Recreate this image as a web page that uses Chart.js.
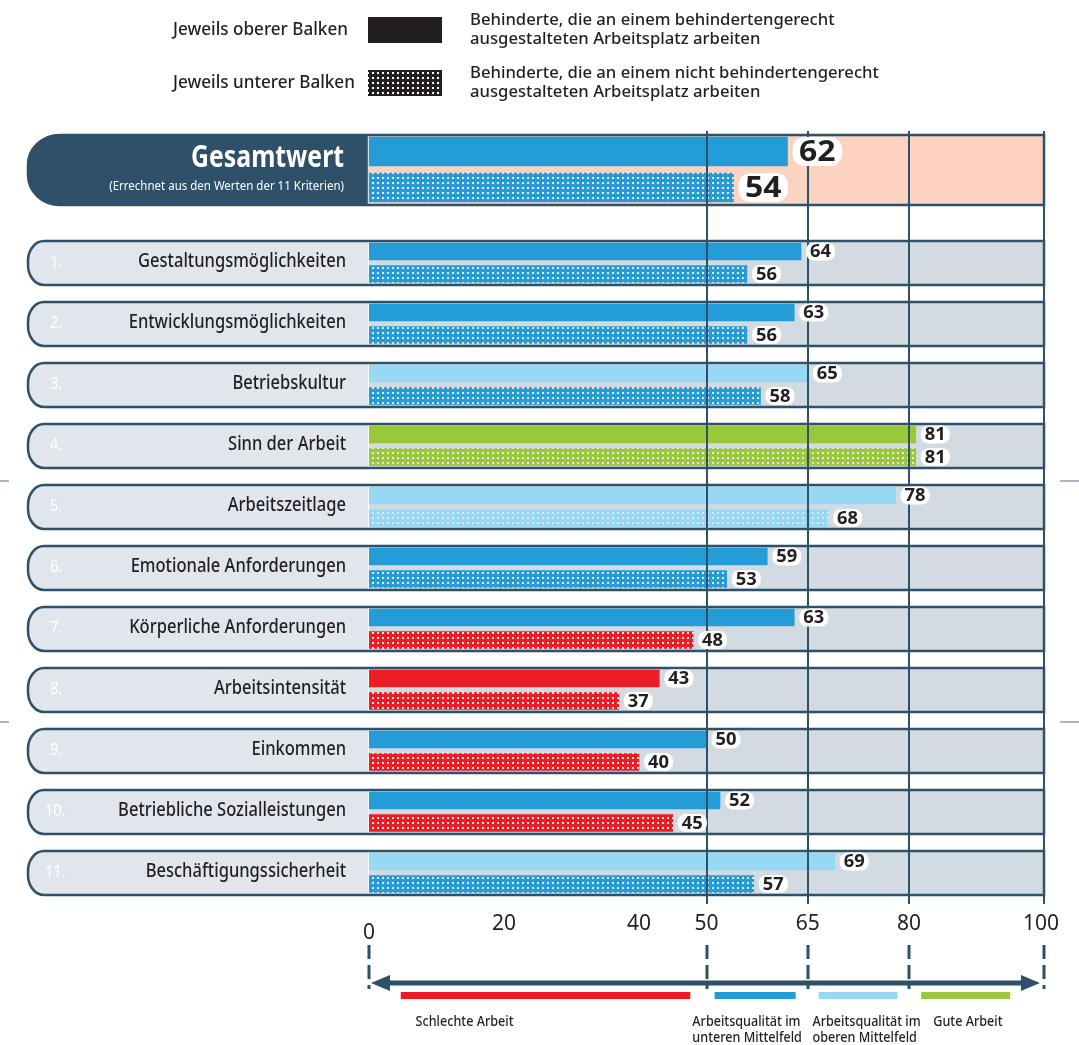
<!DOCTYPE html>
<html lang="de">
<head>
<meta charset="utf-8">
<title>Arbeitsqualität behinderter Beschäftigter</title>
<script src="https://cdn.jsdelivr.net/npm/chart.js@4.4.1/dist/chart.umd.min.js"></script>
<style>
  html, body { margin: 0; padding: 0; background: #fff; }
  #wrap { width: 1079px; height: 1045px; }
</style>
</head>
<body>
<div id="wrap"><canvas id="chart" width="1079" height="1045"></canvas></div>
<script>
// --- data ---
const categories = [
  'Gestaltungsmöglichkeiten', 'Entwicklungsmöglichkeiten', 'Betriebskultur', 'Sinn der Arbeit',
  'Arbeitszeitlage', 'Emotionale Anforderungen', 'Körperliche Anforderungen', 'Arbeitsintensität',
  'Einkommen', 'Betriebliche Sozialleistungen', 'Beschäftigungssicherheit'
];
const upperValues = [64, 63, 65, 81, 78, 59, 63, 43, 50, 52, 69];
const lowerValues = [56, 56, 58, 81, 68, 53, 48, 37, 40, 45, 57];
const totalTitle = 'Gesamtwert';
const totalNote = '(Errechnet aus den Werten der 11 Kriterien)';
const totalUpper = 62;
const totalLower = 54;
const tickValues = [0, 20, 40, 50, 65, 80, 100];
const thresholds = [50, 65, 80];
const bandColors = ['#ee1d25', '#239cd7', '#97d9f5', '#9bc83b'];
const bandLabels = [['Schlechte Arbeit'], ['Arbeitsqualität im', 'unteren Mittelfeld'],
                    ['Arbeitsqualität im', 'oberen Mittelfeld'], ['Gute Arbeit']];
const legendNames = ['Jeweils oberer Balken', 'Jeweils unterer Balken'];
const legendTexts = [['Behinderte, die an einem behindertengerecht', 'ausgestalteten Arbeitsplatz arbeiten'],
                     ['Behinderte, die an einem nicht behindertengerecht', 'ausgestalteten Arbeitsplatz arbeiten']];

// --- layout helpers ---
const NAVY = '#2e5068';
const INK = '#231f20';
const ROW = 61;                 // px per row unit on the y scale
const totalPos = 1 - 93 / ROW;  // Gesamt row sits higher than the criteria rows
const rowPos = categories.map((c, i) => i + 1);

const colorFor = v => bandColors[thresholds.filter(t => v >= t).length];

const patternCache = {};
function dotted(color) {
  if (patternCache[color]) return patternCache[color];
  const c = document.createElement('canvas');
  c.width = 5; c.height = 5;
  const g = c.getContext('2d');
  g.fillStyle = color;
  g.fillRect(0, 0, 5, 5);
  g.clearRect(2, 2, 2, 2);
  g.fillStyle = 'rgba(255,255,255,0.4)';
  g.fillRect(2, 2, 2, 2);
  patternCache[color] = g.createPattern(c, 'repeat');
  return patternCache[color];
}

function txt(ctx, s, x, y, font, color, align, sx) {
  ctx.save();
  ctx.font = font;
  ctx.fillStyle = color;
  ctx.textAlign = align || 'left';
  ctx.textBaseline = 'middle';
  ctx.translate(x, y);
  ctx.scale(sx || 1, 1);
  ctx.fillText(s, 0, 0);
  ctx.restore();
}

function pill(ctx, left, top, right, bottom, rx, ry) {
  ctx.beginPath();
  ctx.moveTo(right, top);
  ctx.lineTo(left + rx, top);
  ctx.ellipse(left + rx, top + ry, rx, ry, 0, -Math.PI / 2, -Math.PI, true);
  ctx.lineTo(left, bottom - ry);
  ctx.ellipse(left + rx, bottom - ry, rx, ry, 0, Math.PI, Math.PI / 2, true);
  ctx.lineTo(right, bottom);
  ctx.closePath();
}

function drawRowShape(ctx, x, cy, half, labelFill, plotFill, rx, ry) {
  const left = 28, top = cy - half, bottom = cy + half, mid = x.getPixelForValue(0), right = x.getPixelForValue(100);
  ctx.save();
  pill(ctx, left, top, right, bottom, rx, ry);
  ctx.save();
  ctx.clip();
  ctx.fillStyle = labelFill;
  ctx.fillRect(left, top, mid - left, bottom - top);
  ctx.fillStyle = plotFill;
  ctx.fillRect(mid, top, right - mid, bottom - top);
  ctx.strokeStyle = 'rgba(255,255,255,0.8)';
  ctx.lineWidth = 1.5;
  ctx.beginPath();
  ctx.moveTo(mid - 0.5, top); ctx.lineTo(mid - 0.5, bottom);
  ctx.stroke();
  ctx.restore();
  pill(ctx, left, top, right, bottom, rx, ry);
  ctx.strokeStyle = NAVY;
  ctx.lineWidth = 2.5;
  ctx.stroke();
  ctx.restore();
}

function valueBox(ctx, v, xEnd, cy, h, font, r, sx) {
  ctx.save();
  ctx.font = font;
  const tw = ctx.measureText(String(v)).width * sx;
  const w = tw + h * 0.45;
  ctx.fillStyle = '#fff';
  ctx.beginPath();
  ctx.roundRect(xEnd + 5, cy - h / 2, w, h, r);
  ctx.fill();
  ctx.restore();
  txt(ctx, String(v), xEnd + 5 + w / 2, cy + 1, font, INK, 'center', sx);
}

const frame = {
  id: 'frame',
  beforeDatasetsDraw(chart) {
    const { ctx, scales: { x, y } } = chart;
    const labelFont = '500 19px "Noto Sans", sans-serif';

    // legend
    legendNames.forEach((name, k) => {
      const cy = k === 0 ? 30 : 83;
      txt(ctx, name, 173, cy, '500 18px "Noto Sans", sans-serif', INK, 'left', 0.95);
      ctx.fillStyle = k === 0 ? INK : dotted(INK);
      ctx.fillRect(368, cy - 13, 74, 26);
      legendTexts[k].forEach((line, j) =>
        txt(ctx, line, 470, cy - 10 + j * 19, '500 17px "Noto Sans", sans-serif', INK, 'left', 0.98));
    });

    // crop marks
    ctx.save();
    ctx.strokeStyle = '#a9b8c6';
    ctx.lineWidth = 2;
    [481, 722].forEach(py => {
      ctx.beginPath();
      ctx.moveTo(0, py); ctx.lineTo(9, py);
      ctx.moveTo(1060, py); ctx.lineTo(1079, py);
      ctx.stroke();
    });
    ctx.restore();

    // Gesamtwert row
    const gy = y.getPixelForValue(totalPos);
    drawRowShape(ctx, x, gy, 35, NAVY, '#fcd3c1', 32, 30);
    txt(ctx, totalTitle, 344, gy - 12, 'bold 31px "Noto Sans", sans-serif', '#fff', 'right', 0.8);
    txt(ctx, totalNote, 344, gy + 16, '12.5px "Noto Sans", sans-serif', '#fff', 'right', 0.92);

    // criteria rows
    categories.forEach((name, i) => {
      const cy = y.getPixelForValue(rowPos[i]);
      drawRowShape(ctx, x, cy, 22, '#e1e6ec', '#d3dbe2', 16, 20);
      txt(ctx, (i + 1) + '.', i >= 9 ? 45 : 50, cy - 1, '17px "Noto Sans", sans-serif', '#fff', 'left', 0.86);
      txt(ctx, name, 346, cy - 1, labelFont, INK, 'right', 0.87);
    });
  },
  afterDatasetsDraw(chart) {
    const { ctx, scales: { x, y } } = chart;

    // vertical guide lines
    ctx.save();
    ctx.strokeStyle = NAVY;
    ctx.lineWidth = 2;
    thresholds.concat([100]).forEach(v => {
      const px = Math.round(x.getPixelForValue(v));
      ctx.beginPath();
      ctx.moveTo(px, 131); ctx.lineTo(px, 904);
      ctx.stroke();
    });
    ctx.restore();

    // value labels
    const bigFont = 'bold 29px "Noto Sans", sans-serif';
    valueBox(ctx, totalUpper, x.getPixelForValue(totalUpper), y.getPixelForValue(totalPos - 18.5 / ROW), 29, bigFont, 12, 1.1);
    valueBox(ctx, totalLower, x.getPixelForValue(totalLower), y.getPixelForValue(totalPos + 17.5 / ROW), 29, bigFont, 12, 1.1);
    const smallFont = 'bold 17px "Noto Sans", sans-serif';
    categories.forEach((c, i) => {
      valueBox(ctx, upperValues[i], x.getPixelForValue(upperValues[i]), y.getPixelForValue(rowPos[i] - 11.5 / ROW), 18, smallFont, 8, 1.08);
      valueBox(ctx, lowerValues[i], x.getPixelForValue(lowerValues[i]), y.getPixelForValue(rowPos[i] + 11 / ROW), 18, smallFont, 8, 1.08);
    });

    // bottom scale
    tickValues.forEach(v => {
      txt(ctx, String(v), x.getPixelForValue(v) - (v === 100 ? 3 : 0), v === 0 ? 933 : 924,
          '21px "Noto Sans", sans-serif', INK, 'center', 1);
    });
    ctx.save();
    ctx.strokeStyle = NAVY;
    ctx.lineWidth = 3;
    ctx.setLineDash([14, 6]);
    [0].concat(thresholds, [100]).forEach(v => {
      const px = Math.round(x.getPixelForValue(v));
      ctx.beginPath();
      ctx.moveTo(px, 945); ctx.lineTo(px, 989);
      ctx.stroke();
    });
    ctx.setLineDash([]);
    // double arrow
    const ax0 = x.getPixelForValue(0.3), ax1 = x.getPixelForValue(99.4), ay = 983;
    ctx.lineWidth = 5;
    ctx.beginPath();
    ctx.moveTo(ax0 + 14, ay); ctx.lineTo(ax1 - 14, ay);
    ctx.stroke();
    ctx.fillStyle = NAVY;
    ctx.beginPath();
    ctx.moveTo(ax0, ay); ctx.lineTo(ax0 + 19, ay - 8); ctx.lineTo(ax0 + 19, ay + 8); ctx.closePath();
    ctx.moveTo(ax1, ay); ctx.lineTo(ax1 - 19, ay - 8); ctx.lineTo(ax1 - 19, ay + 8); ctx.closePath();
    ctx.fill();
    ctx.restore();

    // quality bands and their captions
    const bandRanges = [[4.7, 47.6], [51.2, 63.2], [66.6, 78.3], [81.8, 95]];
    const captionAt = [6.9, 47.9, 65.7, 83.6];
    bandRanges.forEach((r, k) => {
      const x0 = x.getPixelForValue(r[0]), x1 = x.getPixelForValue(r[1]);
      ctx.fillStyle = bandColors[k];
      ctx.fillRect(x0, 992, x1 - x0, 7);
      bandLabels[k].forEach((line, j) =>
        txt(ctx, line, x.getPixelForValue(captionAt[k]), 1022 + j * 16, '500 14px "Noto Sans", sans-serif', INK, 'left', 0.9));
    });
  }
};

const barBase = { borderWidth: 0, borderSkipped: false, grouped: false };

new Chart(document.getElementById('chart'), {
  type: 'bar',
  data: {
    datasets: [
      Object.assign({ label: 'Gesamt oben', barThickness: 29,
        data: [{ x: totalUpper, y: totalPos - 18.5 / ROW }],
        backgroundColor: [colorFor(totalUpper)] }, barBase),
      Object.assign({ label: 'Gesamt unten', barThickness: 29,
        data: [{ x: totalLower, y: totalPos + 17.5 / ROW }],
        backgroundColor: [dotted(colorFor(totalLower))] }, barBase),
      Object.assign({ label: 'behindertengerecht', barThickness: 17,
        data: upperValues.map((v, i) => ({ x: v, y: rowPos[i] - 11.5 / ROW })),
        backgroundColor: upperValues.map(colorFor) }, barBase),
      Object.assign({ label: 'nicht behindertengerecht', barThickness: 17,
        data: lowerValues.map((v, i) => ({ x: v, y: rowPos[i] + 11 / ROW })),
        backgroundColor: lowerValues.map(v => dotted(colorFor(v))) }, barBase)
    ]
  },
  options: {
    responsive: false,
    animation: false,
    indexAxis: 'y',
    layout: { padding: { left: 369, right: 35, top: 263 - 3 * ROW, bottom: 1045 - (263 + 11 * ROW) } },
    scales: {
      x: { type: 'linear', min: 0, max: 100, display: false },
      y: { type: 'linear', min: -2, max: 12, reverse: true, offset: false, display: false }
    },
    plugins: { legend: { display: false }, tooltip: { enabled: false } }
  },
  plugins: [frame]
});
</script>
</body>
</html>
